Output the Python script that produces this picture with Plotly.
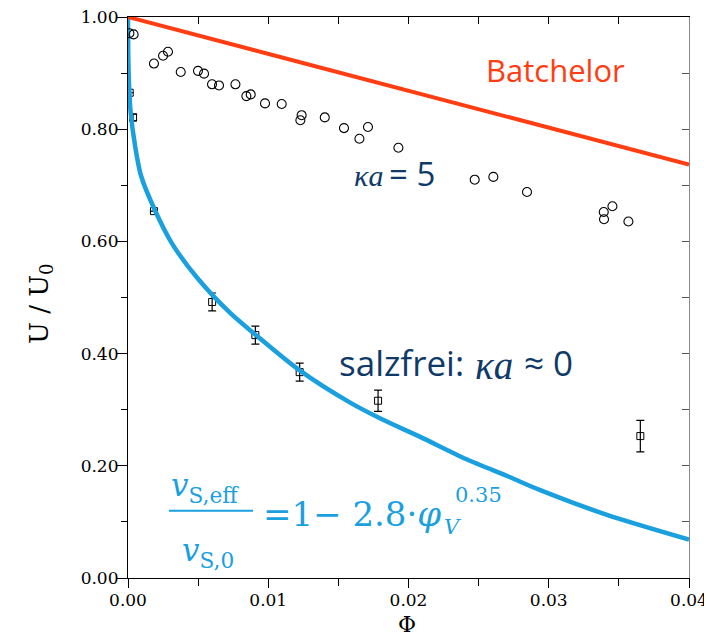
import plotly.graph_objects as go

# ---------------- data ----------------
phi_ka5 = [0.0001, 0.0004, 0.00185, 0.0025, 0.00285, 0.00376, 0.00499, 0.00542,
           0.00599, 0.00649, 0.00766, 0.00844, 0.00875, 0.00977, 0.01096, 0.01229,
           0.01238, 0.01403, 0.0154, 0.0165, 0.01711, 0.01928, 0.02472, 0.02605,
           0.02845, 0.03392, 0.03394, 0.03454, 0.03568]
u_ka5 = [0.971, 0.969, 0.917, 0.931, 0.938, 0.902, 0.904, 0.899,
         0.880, 0.878, 0.880, 0.859, 0.862, 0.846, 0.845, 0.816,
         0.825, 0.821, 0.802, 0.783, 0.804, 0.767, 0.710, 0.715,
         0.688, 0.6525, 0.6395, 0.6627, 0.6354]

phi_salt = [0.00012, 0.00036, 0.00185, 0.0060, 0.00908, 0.01224, 0.01783, 0.03653]
u_salt = [0.865, 0.821, 0.654, 0.492, 0.433, 0.367, 0.316, 0.253]
err_salt = [0.0, 0.006, 0.0, 0.016, 0.016, 0.016, 0.019, 0.028]

phi_fit = [0.0, 0.00002, 0.00008, 0.00019, 0.0005, 0.00093, 0.00193, 0.00312,
           0.0049, 0.0073, 0.00903, 0.01224, 0.01581, 0.01818, 0.0208, 0.0241,
           0.0272, 0.02935, 0.0341, 0.040]
u_fit = [1.0, 0.93, 0.875, 0.830, 0.771, 0.717, 0.655, 0.597,
         0.536, 0.472, 0.435, 0.370, 0.313, 0.282, 0.252, 0.212,
         0.180, 0.157, 0.113, 0.0685]

phi_batch = [0.0, 0.04]
u_batch = [1.0, 0.737]

x_tickvals = [0.0, 0.01, 0.02, 0.03, 0.04]
x_ticktext = ["0.00", "0.01", "0.02", "0.03", "0.04"]
y_tickvals = [0.0, 0.2, 0.4, 0.6, 0.8, 1.0]
y_ticktext = ["0.00", "0.20", "0.40", "0.60", "0.80", "1.00"]

# ---------------- figure ----------------
OFF = 8                      # default page margin of the html body
W, H = 712 - OFF, 641 - OFF
ML, MR, MT, MB = 128 - OFF, 23, 17 - OFF, 63
PW, PH = W - ML - MR, H - MT - MB


def px(x, y):
    """page pixel -> paper coords"""
    x -= OFF
    y -= OFF
    return (x - ML) / PW, (H - MB - y) / PH


BLUE = "#1a9fdf"
RED = "#ff3d12"
NAVY = "#0f3a68"
TICKFONT = dict(family="DejaVu Serif", size=17, color="black")

fig = go.Figure()

fig.add_trace(go.Scatter(
    x=phi_salt, y=u_salt, mode="markers",
    marker=dict(symbol="square-open", size=7, color="black", line=dict(width=1)),
    error_y=dict(type="data", array=err_salt, visible=True, color="black",
                 thickness=1.2, width=4),
    showlegend=False))

fig.add_trace(go.Scatter(
    x=phi_fit, y=u_fit, mode="lines",
    line=dict(color=BLUE, width=4.5, shape="spline", smoothing=0.8),
    showlegend=False))

fig.add_trace(go.Scatter(
    x=phi_ka5, y=u_ka5, mode="markers",
    marker=dict(symbol="circle-open", size=9, color="black", line=dict(width=1.1)),
    showlegend=False))

fig.add_trace(go.Scatter(
    x=phi_batch, y=u_batch, mode="lines", xaxis="x2", yaxis="y2",
    line=dict(color=RED, width=4), showlegend=False))

fig.update_layout(
    width=W, height=H,
    margin=dict(l=ML, r=MR, t=MT, b=MB, autoexpand=False),
    paper_bgcolor="white", plot_bgcolor="white",
    xaxis=dict(range=[0, 0.04], tickmode="array", tickvals=x_tickvals,
               ticktext=x_ticktext, ticks="outside", ticklen=9, tickwidth=1.2,
               tickcolor="black", tickfont=TICKFONT, showline=True,
               linecolor="black", linewidth=1.2, showgrid=False, zeroline=False,
               ticklabelstandoff=-3, automargin=False, ticklabeloverflow="allow",
               minor=dict(dtick=0.005, tick0=0, ticks="outside", ticklen=7,
                          tickcolor="black", tickwidth=1, showgrid=False)),
    yaxis=dict(range=[0, 1], tickmode="array", tickvals=y_tickvals,
               ticktext=y_ticktext, ticks="outside", ticklen=11, tickwidth=1.2,
               tickcolor="black", tickfont=TICKFONT, showline=True,
               linecolor="black", linewidth=1.2, showgrid=False, zeroline=False,
               ticklabelstandoff=-6, automargin=False, ticklabeloverflow="allow",
               minor=dict(dtick=0.1, tick0=0, ticks="outside", ticklen=6,
                          tickcolor="black", tickwidth=1, showgrid=False)),
    xaxis2=dict(range=[0, 0.04], overlaying="x", side="top", anchor="y2",
                ticks="inside", dtick=0.005, tick0=0, ticklen=7, tickwidth=1,
                tickcolor="black", showticklabels=False, showline=True,
                linecolor="black", linewidth=1.2, showgrid=False, zeroline=False,
                automargin=False),
    yaxis2=dict(range=[0, 1], overlaying="y", side="right", anchor="x2",
                ticks="inside", dtick=0.1, tick0=0, ticklen=7, tickwidth=1,
                tickcolor="#555555", showticklabels=False, showline=True,
                linecolor="#888888", linewidth=1.2, showgrid=False, zeroline=False,
                automargin=False),
)

ann = []


def add_text(text, x, y, size, color, family, xanchor="center", yanchor="middle",
             angle=0):
    xp, yp = px(x, y)
    ann.append(dict(text=text, x=xp, y=yp, xref="paper", yref="paper",
                    showarrow=False, xanchor=xanchor, yanchor=yanchor,
                    textangle=angle, borderpad=0, borderwidth=0,
                    font=dict(size=size, color=color, family=family)))


SERIF = "Liberation Serif"

# axis titles
add_text("U / U<sub>0</sub>", 40, 304, 26, "black", "DejaVu Serif", angle=-90)
add_text("Φ", 407, 624, 22, "black", "DejaVu Serif")

# labels
add_text("Batchelor", 555, 70, 31, RED, "Open Sans")

add_text("<i>κa</i>", 368, 175, 30, NAVY, SERIF)
add_text("= 5", 389, 173, 33, NAVY, "Open Sans", xanchor="left")

add_text("salzfrei:", 464, 362, 35, NAVY, "Open Sans", xanchor="right")
add_text("<i>κa</i>", 494, 365, 39, NAVY, SERIF)
add_text("≈ 0", 524, 362, 35, NAVY, "Open Sans", xanchor="left")

# formula
FF = "DejaVu Serif"
add_text("<i>v</i><sub>S,eff</sub>", 205, 487, 31, BLUE, FF)
add_text("<i>v</i><sub>S,0</sub>", 208, 552, 31, BLUE, FF)
add_text("=1− 2.8·<i>φ</i>", 263, 514, 34, BLUE, FF, xanchor="left")
add_text("<i>V</i>", 452, 527, 21, BLUE, FF)
add_text("0.35", 479, 495, 21, BLUE, FF)

fig.update_layout(annotations=ann)

x0, y0 = px(169, 510.7)
x1, _ = px(253, 510.7)
fig.add_shape(type="line", xref="paper", yref="paper", x0=x0, x1=x1, y0=y0, y1=y0,
              line=dict(color=BLUE, width=2))

fig.write_html("out.html")
